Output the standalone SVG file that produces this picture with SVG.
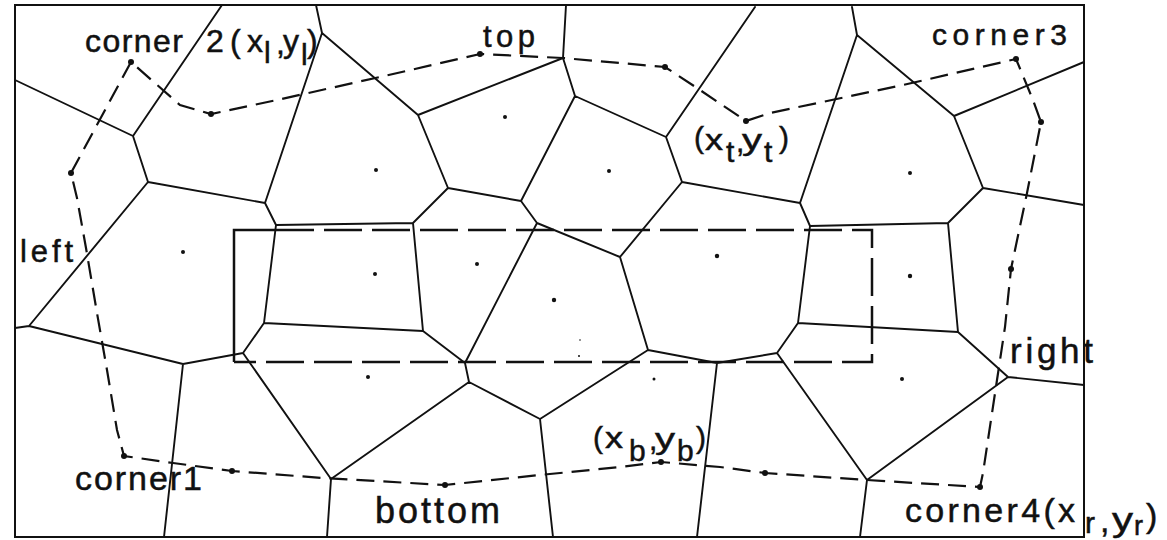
<svg xmlns="http://www.w3.org/2000/svg" width="1167" height="540" viewBox="0 0 1167 540">
<style>
.frame{fill:none;stroke:#111;stroke-width:2}
.vor{fill:none;stroke:#111;stroke-width:1.9;stroke-linejoin:round;stroke-linecap:round}
.contour{fill:none;stroke:#111;stroke-width:2.2;stroke-dasharray:18 9}
.box{fill:none;stroke:#111;stroke-width:2.5;stroke-dasharray:38 10}
.boxs{fill:none;stroke:#111;stroke-width:2.5}
.cdot{fill:#111}
.seed{fill:#111}
text{font-family:"Liberation Sans",Arial,sans-serif;fill:#111;stroke:#111;stroke-width:0.5}
</style>
<rect width="1167" height="540" fill="#fff"/>
<rect class="frame" x="15" y="5" width="1069" height="532"/>
<g id="voronoi" class="vor">
<path d="M222,5 L133,136 M316,5 L322,33 L265,203 M322,33 L418,115 M15,80 L133,136 L148,182 L265,203 L276,225 L413,223 M276,225 L264,323 L423,331 M264,323 L243,353 L183,364 L29,326 L15,328 M29,326 L148,182 M183,364 L164,537 M243,353 L331,479 L327,537 M331,479 L469,382 M418,115 L448,188 L521,201 M448,188 L413,223 L423,331 L465,363 L469,382 L540,419 L553,537 M540,419 L648,350 M521,201 L575,96 M521,201 L537,223 L465,363 M537,223 L620,257 L682,182 M620,257 L648,350 M563,58 L566,5 M563,58 L418,115 M563,58 L575,96 L666,137 L755,7 M666,137 L682,182 L800,203 M857,35 L852,7 M857,35 L800,203 M857,35 L954,116 L1084,62 M954,116 L983,188 L1084,205 M983,188 L948,223 L810,226 L800,203 M810,226 L798,323 L958,332 M948,223 L958,332 L1008,377 L1084,385 M1008,377 L867,480 L860,537 M867,480 L777,353 M798,323 L777,353 L717,363 L648,350 M717,363 L697,537"/>
</g>
<g id="seeds">
<circle class="seed" cx="505" cy="117" r="2"/>
<circle class="seed" cx="609" cy="171" r="2"/>
<circle class="seed" cx="376" cy="170" r="2"/>
<circle class="seed" cx="910" cy="173" r="2"/>
<circle class="seed" cx="183" cy="252" r="2"/>
<circle class="seed" cx="375" cy="274" r="2"/>
<circle class="seed" cx="477" cy="264" r="2"/>
<circle class="seed" cx="554" cy="300" r="2.2"/>
<circle class="seed" cx="717" cy="256" r="2.2"/>
<circle class="seed" cx="910" cy="276" r="2.2"/>
<circle class="seed" cx="368" cy="377" r="2"/>
<circle class="seed" cx="654" cy="379" r="1.5"/>
<circle class="seed" cx="902" cy="379" r="2"/>
<circle class="seed" cx="580" cy="340" r="0.8"/>
<circle class="seed" cx="579" cy="356" r="1"/>
</g>
<g id="window">
<path class="boxs" d="M234,362 L234,230 L276,230"/>
<path class="box" d="M276,230 L872,230 L872,362 L234,362"/>
</g>
<g id="contour">
<path class="contour" d="M131,62 L71,173 L77,198 L86,248 L97,313 L107,370 L117,430 L124,456 L173,463 L232,471 L323,478 L445,485 L540,475 L620,467 L661,462 L720,467 L765,473 L867,480 L980,487 L983,473 L997,380 L1005,327 L1011,269 L1027,193 L1041,122 L1033,100 L1016,59 L903,85 L770,113 L746,121 L697,88 L665,67 L563,58 L480,54 L380,77 L277,100 L211,114 L180,105 Z"/>
<circle class="cdot" cx="131" cy="62" r="3"/>
<circle class="cdot" cx="71" cy="173" r="3"/>
<circle class="cdot" cx="124" cy="456" r="3"/>
<circle class="cdot" cx="232" cy="471" r="3"/>
<circle class="cdot" cx="445" cy="485" r="3"/>
<circle class="cdot" cx="661" cy="462" r="3"/>
<circle class="cdot" cx="765" cy="473" r="3"/>
<circle class="cdot" cx="980" cy="487" r="3"/>
<circle class="cdot" cx="1011" cy="269" r="3"/>
<circle class="cdot" cx="1041" cy="122" r="3"/>
<circle class="cdot" cx="1016" cy="59" r="3"/>
<circle class="cdot" cx="746" cy="121" r="3"/>
<circle class="cdot" cx="665" cy="67" r="3"/>
<circle class="cdot" cx="480" cy="54" r="3"/>
<circle class="cdot" cx="211" cy="114" r="3"/>
</g>
<g id="labels">
<g id="label-corner2" font-size="32">
<text x="85" y="52" textLength="98" lengthAdjust="spacing">corner</text>
<text x="206" y="52" textLength="57" lengthAdjust="spacing">2(x</text>
<text x="264" y="63" font-size="30">l</text>
<text x="276" y="54">,</text>
<text x="283" y="52">y</text>
<text x="301" y="65" font-size="30">l</text>
<text x="307" y="52">)</text>
</g>
<text id="label-top" x="483" y="47" font-size="31" textLength="52" lengthAdjust="spacing">top</text>
<text id="label-corner3" x="932" y="45" font-size="30" textLength="135" lengthAdjust="spacing">corner3</text>
<g id="label-xt" font-size="30">
<text x="694" y="148">(</text>
<text x="705" y="150" textLength="18" lengthAdjust="spacingAndGlyphs">x</text>
<text x="726" y="162">t</text>
<text x="736" y="152">,</text>
<text x="742" y="150" textLength="20" lengthAdjust="spacingAndGlyphs">y</text>
<text x="764" y="162">t</text>
<text x="779" y="148">)</text>
</g>
<text id="label-left" x="20" y="262" font-size="31" textLength="53" lengthAdjust="spacing">left</text>
<text id="label-right" x="1010" y="363" font-size="35" textLength="83" lengthAdjust="spacing">right</text>
<text id="label-corner1" x="75" y="490" font-size="34" textLength="127" lengthAdjust="spacing">corner1</text>
<text id="label-bottom" x="375" y="523" font-size="36" textLength="125" lengthAdjust="spacing">bottom</text>
<g id="label-xb" font-size="30">
<text x="593" y="448">(</text>
<text x="605" y="448" textLength="18" lengthAdjust="spacingAndGlyphs">x</text>
<text x="629" y="461">b</text>
<text x="649" y="450">,</text>
<text x="655" y="449" textLength="20" lengthAdjust="spacingAndGlyphs">y</text>
<text x="677" y="461">b</text>
<text x="696" y="448">)</text>
</g>
<g id="label-corner4" font-size="34">
<text x="905" y="522" textLength="170" lengthAdjust="spacing">corner4(x</text>
<text x="1085" y="533" font-size="30">r</text>
<text x="1100" y="532">,</text>
<text x="1112" y="531" textLength="21" lengthAdjust="spacingAndGlyphs">y</text>
<text x="1134" y="535" font-size="27">r</text>
<text x="1146" y="527">)</text>
</g>
</g>
</svg>
